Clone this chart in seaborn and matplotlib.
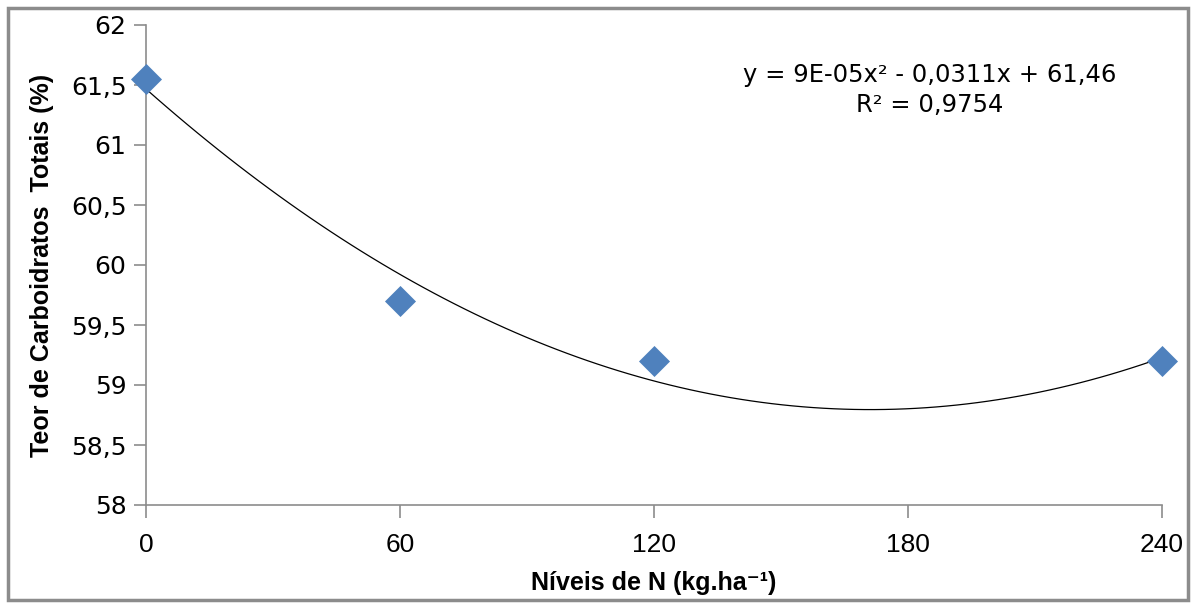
import matplotlib
matplotlib.use("Agg")
import matplotlib.pyplot as plt
from matplotlib.ticker import FuncFormatter, FixedLocator
from matplotlib.patches import Rectangle
import seaborn as sns
import pandas as pd
import numpy as np

# data
n_levels = [0, 60, 120, 240]
carbo = [61.55, 59.70, 59.20, 59.20]
x_ticks = [0, 60, 120, 180, 240]
y_ticks = [58, 58.5, 59, 59.5, 60, 60.5, 61, 61.5, 62]
eq_text = "y = 9E-05x² - 0,0311x + 61,46"
r2_text = "R² = 0,9754"
x_label = "Níveis de N (kg.ha⁻¹)"
y_label = "Teor de Carboidratos  Totais (%)"

df = pd.DataFrame({"N": n_levels, "C": carbo})

sns.set_style("white")
plt.rcParams["font.family"] = ["DejaVu Sans"]
plt.rcParams["text.color"] = "black"
plt.rcParams["axes.labelcolor"] = "black"
plt.rcParams["xtick.color"] = "black"
plt.rcParams["ytick.color"] = "black"

NARROW = ["Liberation Sans", "DejaVu Sans"]

fig = plt.figure(figsize=(11.94, 6.04), dpi=100)
ax = fig.add_axes([146/1194, 1-505/604, (1162-146)/1194, (505-25)/604])

sns.regplot(data=df, x="N", y="C", order=2, ci=None, scatter=False, ax=ax,
            line_kws=dict(color="black", lw=0.9), truncate=True)
sns.scatterplot(data=df, x="N", y="C", ax=ax, marker="D", s=250, color="#4F81BD",
                edgecolor="#4F81BD", linewidth=0, zorder=5, clip_on=False)

ax.set_xlim(0, 240)
ax.set_ylim(58, 62)
ax.xaxis.set_major_locator(FixedLocator(x_ticks))
ax.yaxis.set_major_locator(FixedLocator(y_ticks))
ax.yaxis.set_major_formatter(FuncFormatter(lambda v, p: ("%g" % v).replace(".", ",")))

for s in ["top", "right"]:
    ax.spines[s].set_visible(False)
for s in ["left", "bottom"]:
    ax.spines[s].set_color("#8c8c8c")
    ax.spines[s].set_linewidth(1.2)

ax.tick_params(axis="both", which="major", direction="out", length=9, width=1.2,
               color="#8c8c8c", bottom=True, left=True, labelcolor="black")
ax.tick_params(axis="y", labelsize=18, pad=5, labelfontfamily="DejaVu Sans")
ax.tick_params(axis="x", labelsize=19, pad=11, labelfontfamily="Liberation Sans")

ax.set_xlabel(x_label, fontsize=18, fontweight="bold", color="black",
              family=NARROW, labelpad=10)
ax.set_ylabel(y_label, fontsize=18, fontweight="bold", color="black",
              family=NARROW, labelpad=12)

ax.text(930/1194, 1-75/604, eq_text, transform=fig.transFigure, ha="center",
        va="center", fontsize=17.5, color="black", family="DejaVu Sans")
ax.text(930/1194, 1-105/604, r2_text, transform=fig.transFigure, ha="center",
        va="center", fontsize=17.5, color="black", family="DejaVu Sans")

fig.patches.append(Rectangle((8/1194, 4/604), 1180/1194, 592/604, transform=fig.transFigure,
                             fill=False, edgecolor="#8c8c8c", linewidth=2.5))

fig.savefig("out.png", dpi=100)
